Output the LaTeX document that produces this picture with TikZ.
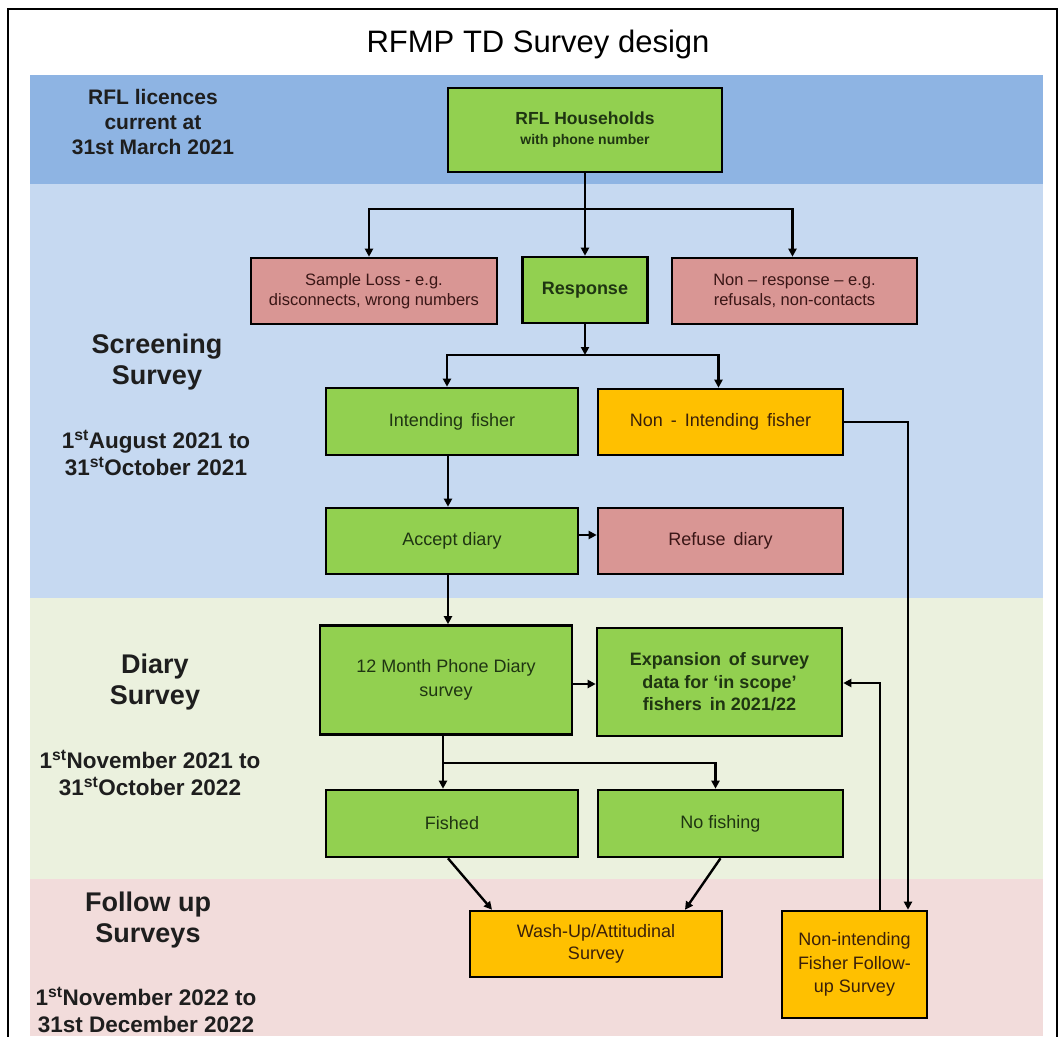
\documentclass[tikz,border=0pt]{standalone}
\usepackage{fontspec}
\setmainfont{Liberation Sans}
\usetikzlibrary{arrows.meta}
\definecolor{bandA}{HTML}{8EB4E3}
\definecolor{bandB}{HTML}{C6D9F1}
\definecolor{bandC}{HTML}{EBF1DE}
\definecolor{bandD}{HTML}{F2DCDB}
\definecolor{gfill}{HTML}{92D050}
\definecolor{pfill}{HTML}{D99694}
\definecolor{ofill}{HTML}{FFC000}
\definecolor{ink}{HTML}{1E1E1E}
\definecolor{gink}{HTML}{1F3512}
\definecolor{pink}{HTML}{3A1616}
\definecolor{oink}{HTML}{3A200A}
\begin{document}
\begin{tikzpicture}[x=1pt,y=-1pt,
  boxbase/.style={draw=black, line width=2.6pt, align=center, inner sep=2pt,
    font=\fontsize{18}{23}\selectfont},
  gbox/.style={boxbase, fill=gfill, text=gink},
  pbox/.style={boxbase, fill=pfill, text=pink, font=\fontsize{16.5}{20}\selectfont},
  obox/.style={boxbase, fill=ofill, text=oink},
  arr/.style={draw=black, line width=2.4pt, line join=miter, -{Triangle[length=8pt,width=8pt]}},
  ln/.style={draw=black, line width=2.4pt},
  side/.style={align=center, text=ink, font=\bfseries\fontsize{27}{31}\selectfont},
  dates/.style={align=center, text=ink, font=\bfseries\fontsize{22.5}{27}\selectfont}]
\useasboundingbox (0,0) rectangle (1060,1036);
\fill[white] (0,0) rectangle (1060,1036);
% bands
\fill[bandA] (30,75) rectangle (1043,184);
\fill[bandB] (30,184) rectangle (1043,598);
\fill[bandC] (30,598) rectangle (1043,879);
\fill[bandD] (30,879) rectangle (1043,1036);
% frame
\draw[line width=2pt] (8,1040) -- (8,9) -- (1057,9) -- (1057,1040);
% title
\node (title) at (538,44) {\fontsize{31}{36}\selectfont RFMP TD Survey design};
% side labels
\node[side, font=\bfseries\fontsize{21}{25}\selectfont] (lab0) at (153,122) {RFL licences\\current at\\31st March 2021};
\node[side] (lab1) at (157,362) {Screening\\Survey};
\node[dates] (dat1) at (156,453) {1\textsuperscript{st}August 2021 to\\31\textsuperscript{st}October 2021};
\node[side] (lab2) at (155,682) {Diary\\Survey};
\node[dates] (dat2) at (150,773) {1\textsuperscript{st}November 2021 to\\31\textsuperscript{st}October 2022};
\node[side] (lab3) at (148,920) {Follow up\\Surveys};
\node[dates] (dat3) at (146,1010) {1\textsuperscript{st}November 2022 to\\31st December 2022};
% boxes
\node[gbox, minimum width=274, minimum height=84] (rfl) at (585,130)
  {\textbf{\fontsize{17.5}{21}\selectfont RFL Households}\\[-3pt]{\bfseries\fontsize{14}{17}\selectfont with phone number}};
\node[pbox, minimum width=246, minimum height=66] (loss) at (374,291) {Sample Loss - e.g.\\disconnects, wrong numbers};
\node[gbox, minimum width=125, minimum height=66] (resp) at (585,290) {\textbf{Response}};
\node[pbox, minimum width=245, minimum height=66] (nonresp) at (794.5,291) {Non – response – e.g.\\refusals, non-contacts};
\node[gbox, minimum width=252, minimum height=67] (intend) at (452,421.5) {Intending\, fisher};
\node[obox, minimum width=245, minimum height=66] (nonint) at (720.5,422) {Non\, -\, Intending\, fisher};
\node[gbox, minimum width=252, minimum height=66] (accept) at (452,541) {Accept diary};
\node[pbox, font=\fontsize{18}{23}\selectfont, minimum width=245, minimum height=66] (refuse) at (720.5,541) {Refuse\, diary};
\node[gbox, minimum width=252, minimum height=109, font=\fontsize{18}{24}\selectfont] (month) at (446,680) {12 Month Phone Diary\\survey};
\node[gbox, minimum width=245, minimum height=108, font=\bfseries\fontsize{18}{22.5}\selectfont] (expan) at (719.5,682) {Expansion\, of survey\\data for ‘in scope’\\fishers\, in 2021/22};
\node[gbox, minimum width=252, minimum height=67] (fished) at (452,823.5) {Fished};
\node[gbox, minimum width=245, minimum height=67] (nofish) at (720.5,823.5) {No fishing};
\node[obox, minimum width=252, minimum height=66, font=\fontsize{18}{22}\selectfont] (wash) at (596,944) {Wash-Up/Attitudinal\\Survey};
\node[obox, minimum width=145, minimum height=107, font=\fontsize{18}{23.5}\selectfont] (nifu) at (854.5,964.5) {Non-intending\\Fisher Follow-\\up Survey};
% connectors
\coordinate (b1) at (585,209);
\coordinate (b2) at (585,355);
\coordinate (b3) at (443,763);
\draw[ln] (rfl.south) -- (b1);
\draw[arr] (b1) -- (resp.north);
\draw[arr] (b1) -| ([xshift=-5]loss.north);
\draw[arr] (b1) -| ([xshift=-2]nonresp.north);
\draw[arr] (resp.south) -- (b2);
\draw[arr] (b2) -| ([xshift=-5]intend.north);
\draw[arr] (b2) -| ([xshift=-2]nonint.north);
\draw[arr] (nonint.east) -| ([xshift=53.5]nifu.north);
\draw[arr] ([xshift=-4]intend.south) -- ([xshift=-4]accept.north);
\draw[arr] (accept.east |- 0,535) -- (refuse.west |- 0,535);
\draw[arr] ([xshift=-4]accept.south) -- ([xshift=2]month.north);
\draw[arr] (month.east |- 0,684) -- (expan.west |- 0,684);
\draw[arr] ([xshift=25.5]nifu.north) |- (expan.east |- 0,683);
\draw[ln] ([xshift=-3]month.south) -- (b3);
\draw[arr] (b3) -- ([xshift=-9]fished.north);
\draw[arr] (b3) -| ([xshift=-5]nofish.north);
\draw[arr] ([xshift=-4]fished.south) -- ([xshift=-104]wash.north);
\draw[arr] (nofish.south) -- ([xshift=89]wash.north);
\end{tikzpicture}
\end{document}
